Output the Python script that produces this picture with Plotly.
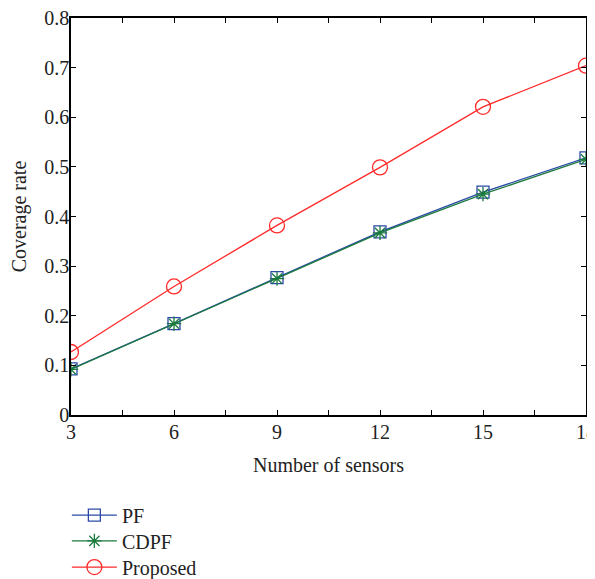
import plotly.graph_objects as go

sensors = [3, 6, 9, 12, 15, 18]
pf = [0.093, 0.184, 0.277, 0.369, 0.449, 0.518]
cdpf = [0.092, 0.184, 0.275, 0.367, 0.445, 0.515]
proposed = [0.127, 0.259, 0.382, 0.499, 0.621, 0.704]

x_ticks = [3, 6, 9, 12, 15, 18]
y_ticks = [0, 0.1, 0.2, 0.3, 0.4, 0.5, 0.6, 0.7, 0.8]
y_labels = ["0", "0.1", "0.2", "0.3", "0.4", "0.5", "0.6", "0.7", "0.8"]

FONT = "Liberation Serif"
TXT = "#222"

# page body has an 8px default margin, so the figure is sized/offset to compensate
fig = go.Figure()
fig.add_trace(go.Scatter(x=sensors, y=pf, name="PF", mode="lines+markers", legend="legend", showlegend=True,
                         line=dict(color="#2b4aa8", width=1.3),
                         marker=dict(symbol="square-open", size=12, color="#2b4aa8", line=dict(width=1.3))))
fig.add_trace(go.Scatter(x=sensors, y=cdpf, name="CDPF", mode="lines+markers", legend="legend2", showlegend=True,
                         line=dict(color="#1a7a3c", width=1.3),
                         marker=dict(symbol="asterisk-open", size=12, color="#1a7a3c", line=dict(width=1.3, color="#1a7a3c"))))
fig.add_trace(go.Scatter(x=sensors, y=proposed, name="Proposed", mode="lines+markers", legend="legend3", showlegend=True,
                         line=dict(color="#ff2a2a", width=1.3),
                         marker=dict(symbol="circle-open", size=15, color="#ff2a2a", line=dict(width=1.3))))

axis_common = dict(showline=True, linecolor="black", linewidth=1.5, mirror="ticks",
                   ticks="inside", ticklen=5, tickwidth=1.3, tickcolor="black",
                   showgrid=False, zeroline=False, automargin=False, ticklabeloverflow="allow",
                   tickfont=dict(family=FONT, size=20, color=TXT))

fig.update_xaxes(range=[3, 18], tickvals=x_ticks, ticklabelstandoff=-2,
                 minor=dict(dtick=1.5, tick0=3, ticks="inside", ticklen=5, tickwidth=1.3, tickcolor="black"),
                 title=dict(text="Number of sensors", font=dict(family=FONT, size=20, color=TXT), standoff=16),
                 **axis_common)
fig.update_yaxes(range=[0, 0.8], tickvals=y_ticks, ticktext=y_labels, ticklabelstandoff=-4,
                 title=dict(text="Coverage rate", font=dict(family=FONT, size=20, color=TXT), standoff=24),
                 **axis_common)

leg = dict(xanchor="left", yanchor="middle", font=dict(family=FONT, size=20, color=TXT),
           bgcolor="rgba(0,0,0,0)", itemwidth=45)
fig.update_layout(width=587, height=571, plot_bgcolor="white", paper_bgcolor="white",
                  showlegend=True,
                  margin=dict(l=63, r=9, t=10, b=164, autoexpand=False),
                  legend=dict(x=-0.008, y=-0.252, **leg),
                  legend2=dict(x=-0.008, y=-0.317, **leg),
                  legend3=dict(x=-0.008, y=-0.383, **leg),
                  font=dict(family=FONT))

fig.write_html("out.html")
